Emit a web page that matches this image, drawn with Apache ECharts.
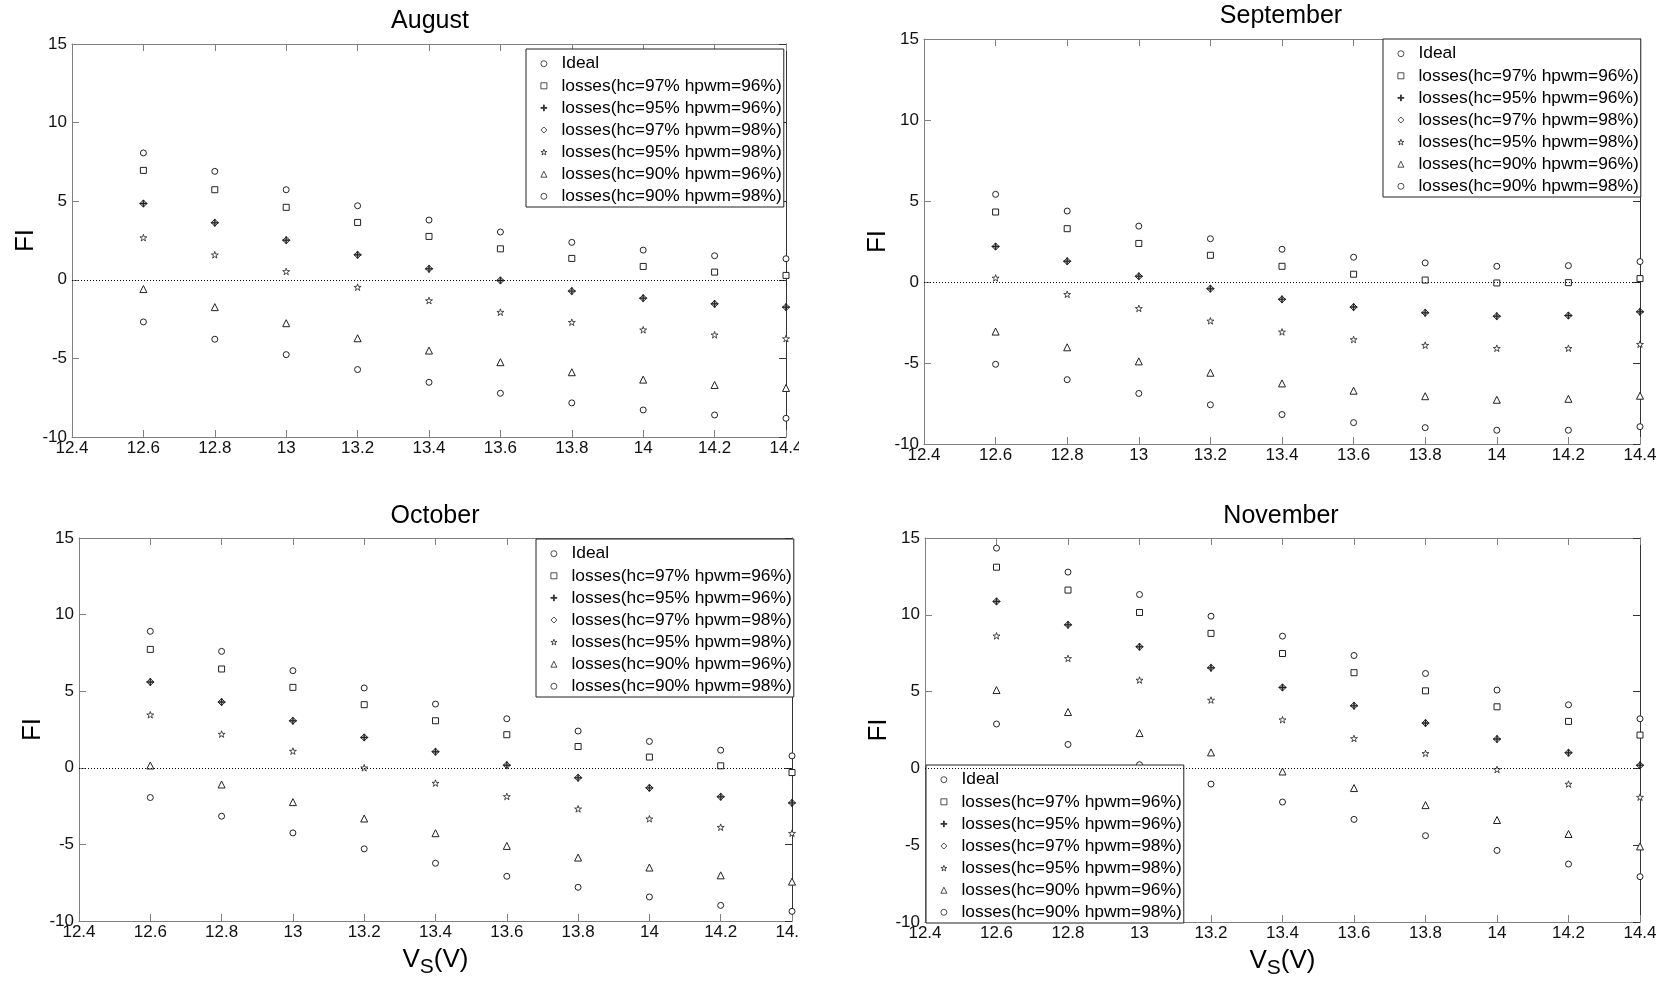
<!DOCTYPE html>
<html>
<head>
<meta charset="utf-8">
<script src="https://cdn.jsdelivr.net/npm/echarts@6/dist/echarts.min.js"></script>
<style>html,body{margin:0;padding:0;background:#fff;}#c{width:1663px;height:981px;}</style>
</head>
<body>
<div id="c"></div>
<script>
// ---------- data ----------
const vs = [12.6, 12.8, 13.0, 13.2, 13.4, 13.6, 13.8, 14.0, 14.2, 14.4];
const seriesNames = ['Ideal', 'losses(hc=97% hpwm=96%)', 'losses(hc=95% hpwm=96%)', 'losses(hc=97% hpwm=98%)',
  'losses(hc=95% hpwm=98%)', 'losses(hc=90% hpwm=96%)', 'losses(hc=90% hpwm=98%)'];
const months = ['August', 'September', 'October', 'November'];

const augIdeal  = [8.07, 6.90, 5.73, 4.71, 3.80, 3.04, 2.38, 1.89, 1.53, 1.34];
const augH97_96 = [6.96, 5.73, 4.61, 3.65, 2.76, 1.97, 1.36, 0.85, 0.49, 0.28];
const augH95_96 = [4.85, 3.63, 2.52, 1.59, 0.70, -0.04, -0.72, -1.17, -1.53, -1.74];
const augH97_98 = [4.85, 3.63, 2.52, 1.59, 0.70, -0.04, -0.72, -1.17, -1.53, -1.74];
const augH95_98 = [2.68, 1.59, 0.53, -0.47, -1.32, -2.06, -2.70, -3.18, -3.50, -3.74];
const augH90_96 = [-0.59, -1.74, -2.76, -3.72, -4.50, -5.24, -5.88, -6.35, -6.69, -6.88];
const augH90_98 = [-2.68, -3.78, -4.76, -5.71, -6.52, -7.22, -7.83, -8.28, -8.60, -8.81];

const sepIdeal  = [5.41, 4.38, 3.45, 2.67, 2.02, 1.53, 1.18, 0.97, 1.01, 1.26];
const sepH97_96 = [4.32, 3.29, 2.38, 1.65, 0.97, 0.48, 0.12, -0.06, -0.04, 0.21];
const sepH95_96 = [2.19, 1.28, 0.35, -0.41, -1.07, -1.55, -1.90, -2.11, -2.07, -1.84];
const sepH97_98 = [2.19, 1.28, 0.35, -0.41, -1.07, -1.55, -1.90, -2.11, -2.07, -1.84];
const sepH95_98 = [0.25, -0.76, -1.63, -2.40, -3.08, -3.55, -3.90, -4.09, -4.09, -3.84];
const sepH90_96 = [-3.06, -4.03, -4.90, -5.60, -6.26, -6.71, -7.05, -7.27, -7.21, -7.02];
const sepH90_98 = [-5.08, -6.03, -6.88, -7.58, -8.18, -8.68, -8.99, -9.15, -9.15, -8.93];

const octIdeal  = [8.91, 7.60, 6.34, 5.21, 4.16, 3.20, 2.40, 1.72, 1.15, 0.78];
const octH97_96 = [7.73, 6.45, 5.25, 4.12, 3.07, 2.16, 1.39, 0.70, 0.13, -0.31];
const octH95_96 = [5.60, 4.29, 3.07, 1.98, 1.05, 0.17, -0.65, -1.31, -1.89, -2.29];
const octH97_98 = [5.60, 4.29, 3.07, 1.98, 1.05, 0.17, -0.65, -1.31, -1.89, -2.29];
const octH95_98 = [3.46, 2.20, 1.09, 0.00, -1.00, -1.87, -2.68, -3.33, -3.88, -4.27];
const octH90_96 = [0.15, -1.09, -2.24, -3.31, -4.27, -5.10, -5.86, -6.51, -7.02, -7.43];
const octH90_98 = [-1.94, -3.16, -4.25, -5.29, -6.23, -7.08, -7.80, -8.43, -8.98, -9.37];

const novIdeal  = [14.34, 12.78, 11.32, 9.91, 8.61, 7.35, 6.18, 5.10, 4.14, 3.23];
const novH97_96 = [13.10, 11.61, 10.15, 8.79, 7.48, 6.23, 5.05, 4.01, 3.06, 2.17];
const novH95_96 = [10.87, 9.35, 7.92, 6.55, 5.27, 4.08, 2.95, 1.91, 1.02, 0.20];
const novH97_98 = [10.87, 9.35, 7.92, 6.55, 5.27, 4.08, 2.95, 1.91, 1.02, 0.20];
const novH95_98 = [8.63, 7.16, 5.75, 4.45, 3.17, 1.95, 0.98, -0.07, -1.02, -1.87];
const novH90_96 = [5.10, 3.67, 2.30, 1.04, -0.20, -1.28, -2.39, -3.36, -4.27, -5.08];
const novH90_98 = [2.89, 1.56, 0.24, -1.02, -2.19, -3.32, -4.38, -5.34, -6.23, -7.05];

const monthData = [
  [augIdeal, augH97_96, augH95_96, augH97_98, augH95_98, augH90_96, augH90_98],
  [sepIdeal, sepH97_96, sepH95_96, sepH97_98, sepH95_98, sepH90_96, sepH90_98],
  [octIdeal, octH97_96, octH95_96, octH97_98, octH95_98, octH90_96, octH90_98],
  [novIdeal, novH97_96, novH95_96, novH97_98, novH95_98, novH90_96, novH90_98]
];

// ---------- styles / layout ----------
const FONT = '"Liberation Sans", Arial, Helvetica, sans-serif';
const INK = '#222';
const PLUS = 'path://M-0.14,-1L0.14,-1L0.14,-0.14L1,-0.14L1,0.14L0.14,0.14L0.14,1L-0.14,1L-0.14,0.14L-1,0.14L-1,-0.14L-0.14,-0.14Z';
const STAR = 'path://M0,-1L0.2245,-0.309L0.951,-0.309L0.363,0.118L0.588,0.809L0,0.382L-0.588,0.809L-0.363,0.118L-0.951,-0.309L-0.2245,-0.309Z';
const markerStyles = [
  {symbol: 'circle', size: 6, fill: '#fff', bw: 1},
  {symbol: 'rect', size: 6, fill: '#fff', bw: 1},
  {symbol: PLUS, size: 7, fill: INK, bw: 0.6},
  {symbol: 'diamond', size: 7, fill: 'rgba(255,255,255,0)', bw: 1},
  {symbol: STAR, size: 7, fill: '#fff', bw: 0.8},
  {symbol: 'triangle', size: 7, fill: '#fff', bw: 1},
  {symbol: 'circle', size: 6, fill: '#fff', bw: 1}
];
const grids = [
  {left: 72, top: 44, width: 714, height: 393},
  {left: 924, top: 39, width: 716, height: 405},
  {left: 79, top: 538, width: 713, height: 383},
  {left: 925, top: 538, width: 715, height: 384}
];
const titlePos = [[430, 9], [1281, 4], [435, 504], [1281, 504]];
const legendPos = [[526, 49], [1383, 39], [536, 539], [926, 765]];
const GRAY = '#808080';
const TICKFONT = 17;

const xAxes = [], yAxes = [], series = [], titles = [], legends = [];
grids.forEach((g, gi) => {
  const hasXName = gi >= 2;
  xAxes.push({
    type: 'value', gridIndex: gi, position: 'bottom', min: 12.4, max: 14.4, interval: 0.2,
    axisLine: {show: true, onZero: false, lineStyle: {color: GRAY, width: 1}},
    axisTick: {show: true, inside: true, length: 7, lineStyle: {color: GRAY}},
    axisLabel: {show: true, margin: 3, color: '#111', fontSize: TICKFONT, fontFamily: FONT},
    splitLine: {show: false},
    name: hasXName ? '{v|V}{s|S}{v|(V)}' : '',
    nameLocation: 'middle', nameGap: 20,
    nameTextStyle: {color: '#000', fontFamily: FONT, fontSize: 26,
      rich: {v: {fontSize: 26, fontFamily: FONT, color: '#000'},
             s: {fontSize: 21, fontFamily: FONT, color: '#000', padding: [16, 0, 0, 0]}}}
  });
  xAxes.push({
    type: 'value', gridIndex: gi, position: 'top', min: 12.4, max: 14.4, interval: 0.2,
    axisLine: {show: true, onZero: false, lineStyle: {color: GRAY, width: 1}},
    axisTick: {show: true, inside: true, length: 7, lineStyle: {color: GRAY}},
    axisLabel: {show: false}, splitLine: {show: false}
  });
  yAxes.push({
    type: 'value', gridIndex: gi, position: 'left', min: -10, max: 15, interval: 5,
    axisLine: {show: true, onZero: false, lineStyle: {color: GRAY, width: 1}},
    axisTick: {show: true, inside: true, length: 7, lineStyle: {color: GRAY}},
    axisLabel: {show: true, margin: 5, color: '#111', fontSize: TICKFONT, fontFamily: FONT},
    splitLine: {show: false},
    name: 'FI', nameLocation: 'middle', nameGap: 32, nameRotate: 90,
    nameTextStyle: {color: '#000', fontFamily: FONT, fontSize: 26}
  });
  yAxes.push({
    type: 'value', gridIndex: gi, position: 'right', min: -10, max: 15, interval: 5,
    axisLine: {show: true, onZero: false, lineStyle: {color: '#333', width: 1}},
    axisTick: {show: true, inside: true, length: 7, lineStyle: {color: '#333'}},
    axisLabel: {show: false}, splitLine: {show: false}
  });
  titles.push({
    text: months[gi], left: titlePos[gi][0], top: titlePos[gi][1], textAlign: 'center', padding: 0,
    textStyle: {fontSize: 25, fontWeight: 'normal', color: '#000', fontFamily: FONT}
  });
  legends.push({
    orient: 'vertical', left: legendPos[gi][0], top: legendPos[gi][1], data: seriesNames,
    itemWidth: 6, itemHeight: 6, itemGap: 4.7, padding: [6, 2, 2, 14.5], symbolKeepAspect: true,
    itemStyle: {borderWidth: 0.8},
    borderColor: INK, borderWidth: 1, backgroundColor: '#fff', selectedMode: false,
    textStyle: {fontSize: 17.4, lineHeight: 17.4, color: '#000', fontFamily: FONT, padding: [0, 0, 0, 9.5]}
  });
  monthData[gi].forEach((vals, si) => {
    const st = markerStyles[si];
    const s = {
      type: 'scatter', name: seriesNames[si], xAxisIndex: gi * 2, yAxisIndex: gi * 2,
      data: vs.map((x, i) => [x, vals[i]]),
      symbol: st.symbol, symbolSize: st.size, symbolKeepAspect: true, clip: false,
      itemStyle: {color: st.fill, borderColor: INK, borderWidth: st.bw, opacity: 1},
      emphasis: {disabled: true}
    };
    if (si === 0) {
      s.markLine = {
        silent: true, symbol: ['none', 'none'], label: {show: false}, animation: false,
        lineStyle: {type: [1, 2], color: '#000', width: 1}, data: [{yAxis: 0}]
      };
    }
    series.push(s);
  });
});

const chart = echarts.init(document.getElementById('c'), null, {renderer: 'canvas'});
chart.setOption({
  animation: false,
  backgroundColor: '#fff',
  title: titles,
  legend: legends,
  grid: grids,
  xAxis: xAxes,
  yAxis: yAxes,
  series: series,
  graphic: [
    {type: 'rect', shape: {x: 799, y: 439, width: 40, height: 30}, style: {fill: '#fff'}, z: 100},
    {type: 'rect', shape: {x: 799, y: 923, width: 40, height: 30}, style: {fill: '#fff'}, z: 100}
  ]
});
</script>
</body>
</html>
